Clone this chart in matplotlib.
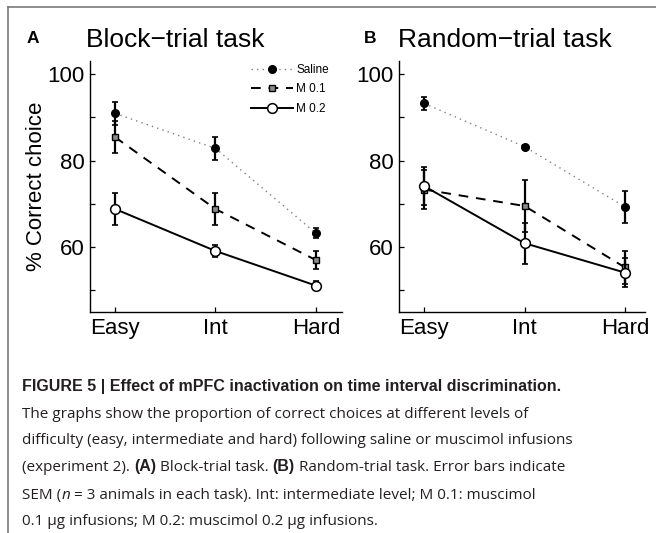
import matplotlib
matplotlib.use('Agg')
import matplotlib.pyplot as plt
from matplotlib.lines import Line2D

# data (% correct choice, mean and SEM)
levels = ['Easy', 'Int', 'Hard']
xpos = [1, 2, 3]

block_saline = [90.9, 82.8, 63.2]
block_saline_err = [2.6, 2.7, 1.2]
block_m01 = [85.4, 68.8, 57.0]
block_m01_err = [3.7, 3.8, 2.0]
block_m02 = [68.8, 59.1, 51.1]
block_m02_err = [3.8, 1.4, 1.0]

random_saline = [93.2, 83.2, 69.3]
random_saline_err = [1.5, 0.3, 3.7]
random_m01 = [73.3, 69.5, 55.3]
random_m01_err = [4.4, 6.0, 3.8]
random_m02 = [74.1, 60.9, 54.1]
random_m02_err = [4.4, 4.7, 3.3]

series_names = ['Saline', 'M 0.1', 'M 0.2']

plt.rcParams['font.family'] = ['Liberation Sans', 'DejaVu Sans']
W, H = 656, 533
fig = plt.figure(figsize=(W / 100, H / 100), dpi=100)


def px_axes(l, t, r, b):
    return fig.add_axes([l / W, 1 - b / H, (r - l) / W, (b - t) / H])


styles = [
    dict(color='#808080', ls=(0, (1, 3)), lw=1.0, marker='o', ms=5.5,
         mfc='black', mec='black'),
    dict(color='black', ls=(0, (5, 4)), lw=1.4, marker='s', ms=4.8,
         mfc='#8c8c8c', mec='black', mew=1.0),
    dict(color='black', ls='-', lw=1.4, marker='o', ms=7,
         mfc='white', mec='black', mew=1.1),
]


def panel(ax, means, errs, xmax):
    handles = []
    for k, (m, e) in enumerate(zip(means, errs)):
        ax.errorbar(xpos, m, yerr=e, fmt='none', ecolor='black',
                    elinewidth=1.6, capsize=2, capthick=1.2, zorder=2 + k)
        h, = ax.plot(xpos, m, zorder=3 + k, **styles[k])
        handles.append(h)
    ax.set_xlim(0.75, xmax)
    ax.set_ylim(45, 103)
    ax.set_xticks(xpos)
    ax.set_xticklabels(levels)
    ax.set_yticks([60, 80, 100])
    ax.set_yticks([50, 70, 90], minor=True)
    for s in ['top', 'right']:
        ax.spines[s].set_visible(False)
    for s in ['left', 'bottom']:
        ax.spines[s].set_linewidth(1.0)
    ax.tick_params(which='both', direction='in', length=3.5, width=0.9,
                   labelsize=16, pad=4)
    ax.patch.set_alpha(0)
    return handles


axA = px_axes(90, 61, 342, 312)
hA = panel(axA, [block_saline, block_m01, block_m02],
           [block_saline_err, block_m01_err, block_m02_err], 3.26)
axA.set_ylabel('% Correct choice', fontsize=16, labelpad=0)
axA.legend(hA, series_names, loc='upper left', bbox_to_anchor=(0.64, 0.988),
           frameon=False, fontsize=8.5, handlelength=3.5, handletextpad=0.3,
           labelspacing=0.62, borderpad=0, borderaxespad=0)

axB = px_axes(399, 61, 645, 312)
panel(axB, [random_saline, random_m01, random_m02],
      [random_saline_err, random_m01_err, random_m02_err], 3.2)

# panel letters and titles
fig.text(27 / W, 1 - 43 / H, 'A', fontsize=12.5, fontweight='bold', va='baseline')
fig.text(86 / W, 1 - 47 / H, 'Block\u2212trial task', fontsize=19, va='baseline')
fig.text(364 / W, 1 - 43 / H, 'B', fontsize=12.5, fontweight='bold', va='baseline')
fig.text(398 / W, 1 - 47 / H, 'Random\u2212trial task', fontsize=19, va='baseline')

# grey frame on the top and left
fig.add_artist(Line2D([7.5 / W, 7.5 / W], [0, 1 - 6.5 / H], color='#7a7a7a',
                      lw=1.2, transform=fig.transFigure))
fig.add_artist(Line2D([7.5 / W, 1], [1 - 6.5 / H, 1 - 6.5 / H], color='#7a7a7a',
                      lw=1.2, transform=fig.transFigure))

# caption: bold heading, wider regular body
head_font = ['Liberation Sans', 'DejaVu Sans']
body_font = ['Open Sans', 'Liberation Sans', 'DejaVu Sans']
renderer = fig.canvas.get_renderer()


def rich_line(x, y, parts):
    for s, kw in parts:
        kw = dict(kw)
        fam = kw.pop('family', body_font)
        size = kw.pop('size', 11.0)
        t = fig.text(x / W, 1 - y / H, s, fontsize=size, family=fam,
                     color='#231f20', va='baseline', **kw)
        x += t.get_window_extent(renderer).width


plain = {}
bold = {'fontweight': 'bold', 'family': head_font, 'size': 11.5}
ital = {'fontstyle': 'italic'}
head = {'fontweight': 'bold', 'family': head_font, 'size': 11.5}
cap_x = 22
rich_line(cap_x, 391, [('FIGURE 5 | Effect of mPFC inactivation on time interval discrimination.', head)])
rich_line(cap_x, 418, [('The graphs show the proportion of correct choices at different levels of', plain)])
rich_line(cap_x, 444, [('difficulty (easy, intermediate and hard) following saline or muscimol infusions', plain)])
rich_line(cap_x, 471, [('(experiment 2). ', plain), ('(A)', bold), (' Block-trial task. ', plain),
                       ('(B)', bold), (' Random-trial task. Error bars indicate', plain)])
rich_line(cap_x, 499, [('SEM (', plain), ('n', ital),
                       (' = 3 animals in each task). Int: intermediate level; M 0.1: muscimol', plain)])
rich_line(cap_x, 525, [('0.1 \u00b5g infusions; M 0.2: muscimol 0.2 \u00b5g infusions.', plain)])

fig.savefig('out.png', dpi=100)
